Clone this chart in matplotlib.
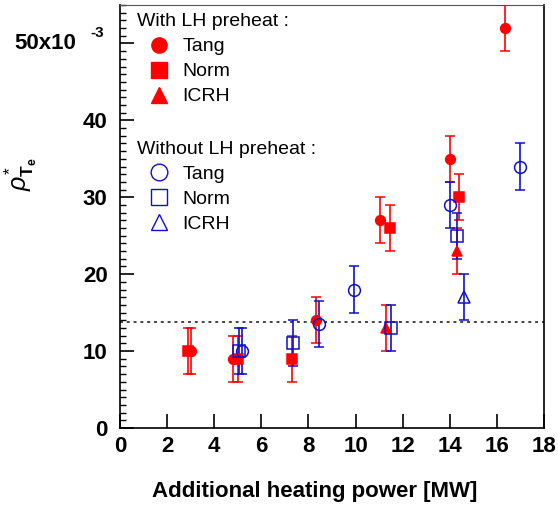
import matplotlib
matplotlib.use('Agg')
import matplotlib.pyplot as plt
from matplotlib.lines import Line2D
from matplotlib.ticker import MultipleLocator
import matplotlib.transforms as mtransforms

plt.rcParams['font.family'] = ['Liberation Sans', 'DejaVu Sans']
plt.rcParams['mathtext.fontset'] = 'custom'
plt.rcParams['mathtext.rm'] = 'Liberation Sans'
plt.rcParams['mathtext.it'] = 'Liberation Sans:italic'
plt.rcParams['mathtext.bf'] = 'Liberation Sans:bold'

# with LH preheat (filled, red)
lh_tang_x = [3.0, 4.8, 8.3, 11.05, 14.0, 16.35]
lh_tang_y = [10, 9, 14, 27, 35, 52]
lh_norm_x = [2.88, 5.0, 7.3, 11.45, 14.4]
lh_norm_y = [10, 9, 9, 26, 30]
lh_icrh_x = [11.3, 14.3]
lh_icrh_y = [13, 23]

# without LH preheat (open, blue)
nolh_tang_x = [5.2, 8.45, 9.95, 14.0, 17.0]
nolh_tang_y = [10, 13.5, 18, 29, 34]
nolh_norm_x = [5.05, 7.35, 11.5, 14.3]
nolh_norm_y = [10, 11, 13, 25]
nolh_icrh_x = [14.6]
nolh_icrh_y = [17]

err = 3.0
threshold = 13.8

RED = '#ff0000'
BLUE = '#1010cc'

fig = plt.figure(figsize=(5.58, 5.05), dpi=100)
ax = fig.add_axes([120 / 558, 77 / 505, 424 / 558, 423 / 505])

ax.axhline(threshold, color='#444444', lw=1.4, ls=(0, (1.5, 2.0)), zorder=1)

ebkw = dict(capsize=3.6, elinewidth=1.2, capthick=1.2, ls='none', zorder=3)

series = [
    (lh_tang_x, lh_tang_y, 'o', RED, True, 7),
    (lh_norm_x, lh_norm_y, 's', RED, True, 7),
    (lh_icrh_x, lh_icrh_y, '^', RED, True, 7),
    (nolh_tang_x, nolh_tang_y, 'o', BLUE, False, 8.5),
    (nolh_norm_x, nolh_norm_y, 's', BLUE, False, 8),
    (nolh_icrh_x, nolh_icrh_y, '^', BLUE, False, 8.5),
]
for xs, ys, mk, col, filled, ms in series:
    ax.errorbar(xs, ys, yerr=[err] * len(xs), marker=mk, ms=ms,
                color=col, ecolor=col, mec=col, mew=1.1,
                mfc=col if filled else 'none', **ebkw)

ax.set_xlim(0, 18)
ax.set_ylim(0, 55)

ax.xaxis.set_major_locator(MultipleLocator(2))
ax.yaxis.set_minor_locator(MultipleLocator(1))
ax.tick_params(axis='both', which='major', direction='in', length=10, width=1.2,
               labelsize=16, top=False, right=False)
ax.tick_params(axis='y', which='minor', direction='in', length=4, width=1.0, right=False)
ax.tick_params(axis='x', pad=6)
ax.tick_params(axis='y', pad=9)

yt = [0, 10, 20, 30, 40, 50]
ax.set_yticks(yt)
ax.set_yticklabels([str(v) for v in yt[:-1]] + [''])
for lab in ax.get_xticklabels() + ax.get_yticklabels():
    lab.set_fontweight('bold')

# the 50 label with its exponent
trans = mtransforms.blended_transform_factory(fig.transFigure, ax.transData)
ax.text(76 / 558, 50, '50x10', transform=trans, ha='right', va='center',
        fontsize=16, fontweight='bold')
ax.text(90 / 558, 51.3, '-3', transform=trans, ha='left', va='center',
        fontsize=11, fontweight='bold')

for s in ['left', 'bottom', 'right']:
    ax.spines[s].set_linewidth(1.2)
ax.spines['top'].set_color('#555555')

ax.set_xlabel('Additional heating power [MW]', fontsize=16, fontweight='bold')
ax.xaxis.set_label_coords(0.46, -0.125)
ax.set_ylabel(r'$\rho^{*}_{\mathbf{T}_{\mathbf{e}}}$', fontsize=18)
ax.yaxis.set_label_coords(-0.19, 0.6)

names = ['Tang', 'Norm', 'ICRH']
markers = ['o', 's', '^']
lh_handles = [Line2D([], [], ls='none', marker=m, ms=11, color=RED) for m in markers]
nolh_handles = [Line2D([], [], ls='none', marker=m, ms=12, color=BLUE, mfc='none', mew=1.0)
                for m in markers]

legkw = dict(loc='upper left', frameon=False, fontsize=14, title_fontsize=14,
             alignment='left', handlelength=2.3, handletextpad=0.05,
             labelspacing=0.38, borderpad=0, borderaxespad=0)
leg1 = ax.legend(lh_handles, names, title='With LH preheat :',
                 bbox_to_anchor=(0.04, 0.98), **legkw)
ax.add_artist(leg1)
ax.legend(nolh_handles, names, title='Without LH preheat :',
          bbox_to_anchor=(0.04, 0.678), **legkw)

fig.savefig('out.png', dpi=100)
